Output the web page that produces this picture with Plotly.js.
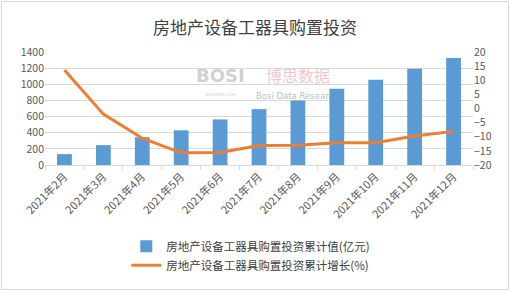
<!DOCTYPE html>
<html><head><meta charset="utf-8">
<script src="https://cdn.plot.ly/plotly-3.0.1.min.js"></script>
<style>html,body{margin:0;padding:0;background:#fff;}#wrap{position:relative;width:510px;height:291px;}
#frame{position:absolute;left:1px;top:1px;width:506px;height:287px;border:1px solid #d9d9d9;pointer-events:none;}</style>
</head><body><div id="wrap"><div id="chart" style="width:510px;height:291px;"></div><div id="frame"></div></div>
<script>
var months = ['2021年2月','2021年3月','2021年4月','2021年5月','2021年6月','2021年7月','2021年8月','2021年9月','2021年10月','2021年11月','2021年12月'];
var cumValue = [135, 246, 344, 430, 565, 692, 798, 946, 1057, 1192, 1327];
var cumGrowth = [13.6, -2.0, -10.5, -15.7, -15.6, -13.1, -13.0, -12.1, -12.1, -9.7, -8.1];
var nameValue = '房地产设备工器具购置投资累计值(亿元)';
var nameGrowth = '房地产设备工器具购置投资累计增长(%)';
var titleText = '房地产设备工器具购置投资';

var font = "'Noto Sans CJK SC', 'Noto Sans', sans-serif";
var traces = [
  {type:'bar', x:months, y:cumValue, name:nameValue, marker:{color:'#5B9BD5'}, yaxis:'y'},
  {type:'scatter', mode:'lines', x:months, y:cumGrowth, name:nameGrowth, line:{color:'#ED7D31', width:3}, yaxis:'y2'}
];
var layout = {
  width:510, height:291,
  margin:{l:45, r:37, t:52, b:124},
  paper_bgcolor:'#fff', plot_bgcolor:'#fff',
  font:{family:font, size:11, color:'#595959'},
  title:{text:titleText, font:{family:font, size:17, color:'#404040'}, x:0.5, xanchor:'center', y:0.905, yanchor:'middle'},
  bargap:0.62,
  showlegend:true,
  legend:{x:0.19, y:-0.59, xanchor:'left', yanchor:'top', orientation:'v', font:{family:font, size:11.5, color:'#404040'}, tracegroupgap:0, itemwidth:30, bgcolor:'rgba(0,0,0,0)'},
  xaxis:{type:'category', tickangle:-45, tickson:'boundaries', ticks:'outside', ticklen:4, tickcolor:'#d9d9d9', showline:true, linecolor:'#d9d9d9', showgrid:false, tickfont:{family:font, size:11, color:'#595959'}},
  yaxis:{range:[0,1400], dtick:200, tick0:0, showgrid:true, gridcolor:'#d9d9d9', zeroline:false, showline:false, ticks:'', tickfont:{family:font, size:10.5, color:'#595959'}},
  yaxis2:{range:[-20,20], dtick:5, tick0:-20, overlaying:'y', side:'right', showgrid:false, zeroline:false, showline:false, ticks:'', tickfont:{family:font, size:10.5, color:'#595959'}},
  annotations:[
    {xref:'paper', yref:'paper', x:0.41, y:0.79, yanchor:'middle', text:'<b>BOSI</b>', showarrow:false, borderpad:0, font:{family:'DejaVu Sans', size:18, color:'rgba(150,150,150,0.45)'}},
    {xref:'paper', yref:'paper', x:0.41, y:0.62, yanchor:'middle', text:'BOSIDATA.COM', showarrow:false, borderpad:0, font:{family:'DejaVu Sans', size:4, color:'rgba(150,150,150,0.5)'}},
    {xref:'paper', yref:'paper', x:0.59, y:0.80, yanchor:'middle', text:'博思数据', showarrow:false, borderpad:0, font:{family:font, size:16, color:'rgba(230,150,160,0.55)'}},
    {xref:'paper', yref:'paper', x:0.59, y:0.615, yanchor:'middle', text:'Bosi Data Research', showarrow:false, borderpad:0, font:{family:'DejaVu Sans', size:8.5, color:'rgba(140,140,140,0.6)'}}
  ]
};
Plotly.newPlot('chart', traces, layout, {displayModeBar:false, staticPlot:true});
</script></body></html>
